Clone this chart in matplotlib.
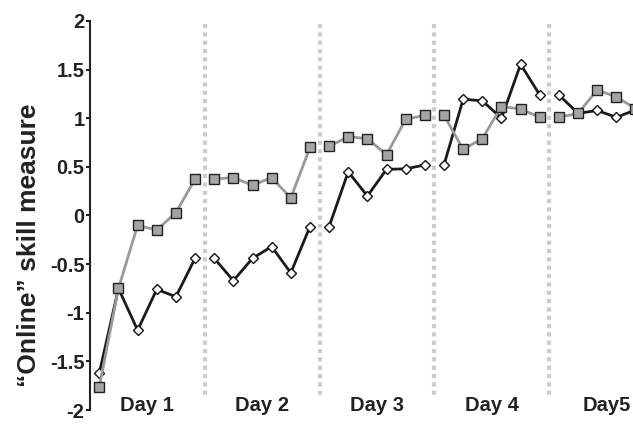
import matplotlib
matplotlib.use('Agg')
import matplotlib.pyplot as plt

plt.rcParams['font.family'] = ['Liberation Sans', 'DejaVu Sans']
plt.rcParams['font.weight'] = 'bold'

# one list of 6 blocks per day (day 5 cut off by the figure edge)
days = ['Day 1', 'Day 2', 'Day 3', 'Day 4', 'Day5']
gray_vals = [
    [-1.76, -0.75, -0.10, -0.15, 0.03, 0.375],
    [0.375, 0.39, 0.31, 0.39, 0.18, 0.70],
    [0.71, 0.81, 0.79, 0.625, 0.99, 1.03],
    [1.03, 0.68, 0.79, 1.12, 1.095, 1.01],
    [1.01, 1.05, 1.29, 1.22, 1.10],
]
black_vals = [
    [-1.62, -0.75, -1.18, -0.76, -0.835, -0.44],
    [-0.44, -0.67, -0.44, -0.32, -0.59, -0.115],
    [-0.115, 0.45, 0.20, 0.475, 0.48, 0.52],
    [0.52, 1.195, 1.18, 1.00, 1.555, 1.24],
    [1.24, 1.05, 1.08, 1.01, 1.085],
]
yticks = [-2, -1.5, -1, -0.5, 0, 0.5, 1, 1.5, 2]
ytick_labels = ['-2', '-1.5', '-1', '-0.5', '0', '0.5', '1', '1.5', '2']

W, H = 633, 424
fig = plt.figure(figsize=(W / 100, H / 100), dpi=100)
ax = fig.add_axes([90 / W, 1 - 410 / H, 1 - 90 / W, (410 - 21) / H])

per_day = 6
for d in range(len(days)):
    xs = [d * per_day + i for i in range(len(black_vals[d]))]
    ax.plot(xs, black_vals[d], color='#1a1a1a', lw=2, marker='D', ms=5,
            mfc='white', mec='#111111', mew=1, zorder=3)
    xs = [d * per_day + i for i in range(len(gray_vals[d]))]
    ax.plot(xs, gray_vals[d], color='#999999', lw=2, marker='s', ms=7,
            mfc='#a4a4a4', mec='#222222', mew=1, zorder=4)

#dotted separators between days
for d in range(1, len(days)):
    ax.plot([d * per_day - 0.5] * 2, [1.97, -1.85], color='#cccccc', lw=3,
            ls=(0, (1, 1)), zorder=1)

for d, name in enumerate(days):
    ax.text(d * per_day + 2.5, -1.95, name, ha='center', va='center',
            fontsize=14.5, fontweight='bold', color='#222222', clip_on=False)

ax.set_xlim(-0.486, 27.87)
ax.set_ylim(-2, 2)
ax.set_yticks(yticks)
ax.set_yticklabels(ytick_labels, fontsize=14.5, fontweight='bold', color='#222222')
ax.set_xticks([])
ax.tick_params(axis='y', direction='out', length=3, width=1.5, color='#222222', pad=1)
for s in ['top', 'right', 'bottom']:
    ax.spines[s].set_visible(False)
ax.spines['left'].set_linewidth(1.5)
ax.spines['left'].set_color('#222222')

fig.text(29 / W, 1 - 245 / H, '\u201cOnline\u201d skill measure', rotation=90,
         ha='center', va='center', fontsize=19, fontweight='bold', color='#222222')

fig.savefig('out.png', dpi=100)
